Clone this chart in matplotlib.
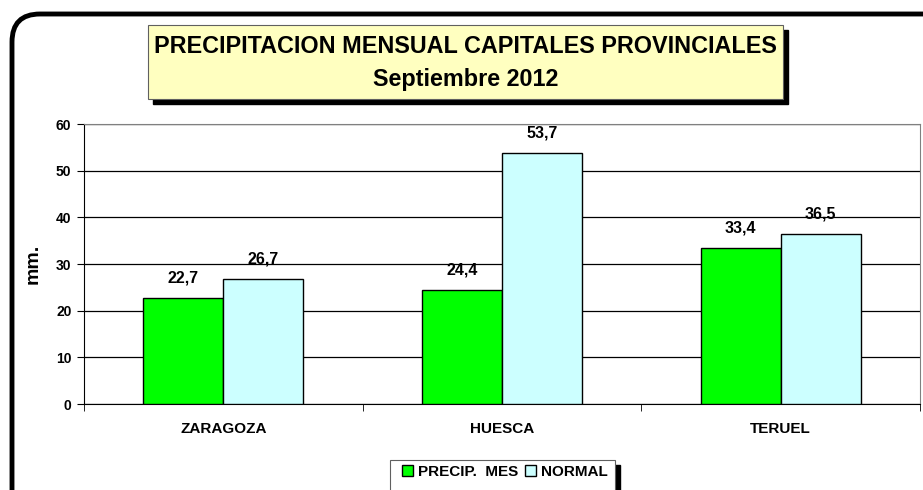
import matplotlib.pyplot as plt
from matplotlib.patches import FancyBboxPatch, Rectangle
from matplotlib.transforms import IdentityTransform

capitales = ["ZARAGOZA", "HUESCA", "TERUEL"]
precip_mes = [22.7, 24.4, 33.4]
normal = [26.7, 53.7, 36.5]
serie_labels = ["PRECIP.  MES", "NORMAL"]
titulo = "PRECIPITACION MENSUAL CAPITALES PROVINCIALES\nSeptiembre 2012"

plt.rcParams["font.family"] = ["Liberation Sans", "DejaVu Sans"]
plt.rcParams["font.weight"] = "bold"

W, H = 923, 490
fig = plt.figure(figsize=(W / 100, H / 100), dpi=100)
px = IdentityTransform()  # pixel coords, origin bottom-left

# rounded outer frame (cut off at right and bottom like the original)
fig.patches.append(FancyBboxPatch((12, -30), 960, H - 14 + 30,
                                  boxstyle="round,pad=0,rounding_size=28",
                                  transform=px, fill=False, lw=3.5, ec="black"))

ax = fig.add_axes([84 / W, 1 - 404 / H, (920 - 84) / W, (404 - 124) / H])

x = list(range(len(capitales)))
bw = 0.287
b1 = ax.bar([i - bw / 2 for i in x], precip_mes, bw, color="#00FF00",
            edgecolor="black", lw=1, label=serie_labels[0], zorder=3)
b2 = ax.bar([i + bw / 2 for i in x], normal, bw, color="#CCFFFF",
            edgecolor="black", lw=1, label=serie_labels[1], zorder=3)

for bars in (b1, b2):
    for r in bars:
        v = r.get_height()
        ax.annotate(f"{v:.1f}".replace(".", ","),
                    (r.get_x() + r.get_width() / 2, v),
                    xytext=(0, 9), textcoords="offset points",
                    ha="center", va="bottom", fontsize=11.5, fontweight="bold")

ax.set_xlim(-0.5, 2.5)
ax.set_ylim(0, 60)
ax.set_yticks(range(0, 61, 10))
ax.yaxis.grid(True, color="black", lw=0.9, zorder=0)
ax.set_axisbelow(True)
ax.set_xticks(x)
ax.set_xticklabels(capitales, fontsize=11, fontweight="bold")
ax.set_xticks([-0.5, 0.5, 1.5, 2.5], minor=True)
ax.tick_params(axis="x", which="major", length=0, pad=13)
ax.tick_params(axis="x", which="minor", length=5, direction="out")
ax.tick_params(axis="y", labelsize=10, length=5, direction="out", pad=4)
for lab in ax.get_yticklabels():
    lab.set_fontweight("bold")
ax.set_ylabel("mm.", fontsize=14, fontweight="bold", labelpad=10)
for s in ("top", "right"):
    ax.spines[s].set_color("#808080")
ax.spines["left"].set_color("black")
ax.spines["bottom"].set_color("black")

# title box with shadow
tx0, ty0, tw, th = 148, 25, 635, 74
fig.patches.append(Rectangle((tx0 + 5, H - (ty0 + th + 5)), tw, th,
                             transform=px, color="black"))
fig.patches.append(Rectangle((tx0, H - (ty0 + th)), tw, th,
                             transform=px, fc="#FFFFC0", ec="#606060", lw=0.8))
fig.text((tx0 + tw / 2) / W, 1 - (ty0 + th / 2 + 1) / H, titulo, ha="center", va="center",
         fontsize=16.8, fontweight="bold", linespacing=1.6)

# legend box (bottom cut off), with shadow on the right
fig.patches.append(Rectangle((615, -10), 5, H - 465 + 10, transform=px, color="black"))
fig.patches.append(Rectangle((390, -10), 225, H - 460 + 10, transform=px,
                             fc="white", ec="#606060", lw=0.8))
leg = fig.legend(handles=[b1, b2], loc="center left",
                 bbox_to_anchor=(390 / W, 1 - 472 / H), ncol=2, fontsize=11,
                 frameon=False, handlelength=0.7, handleheight=0.7,
                 handletextpad=0.35, columnspacing=0.45, borderpad=0.3)
for t in leg.get_texts():
    t.set_fontweight("bold")

fig.savefig("out.png", dpi=100)
